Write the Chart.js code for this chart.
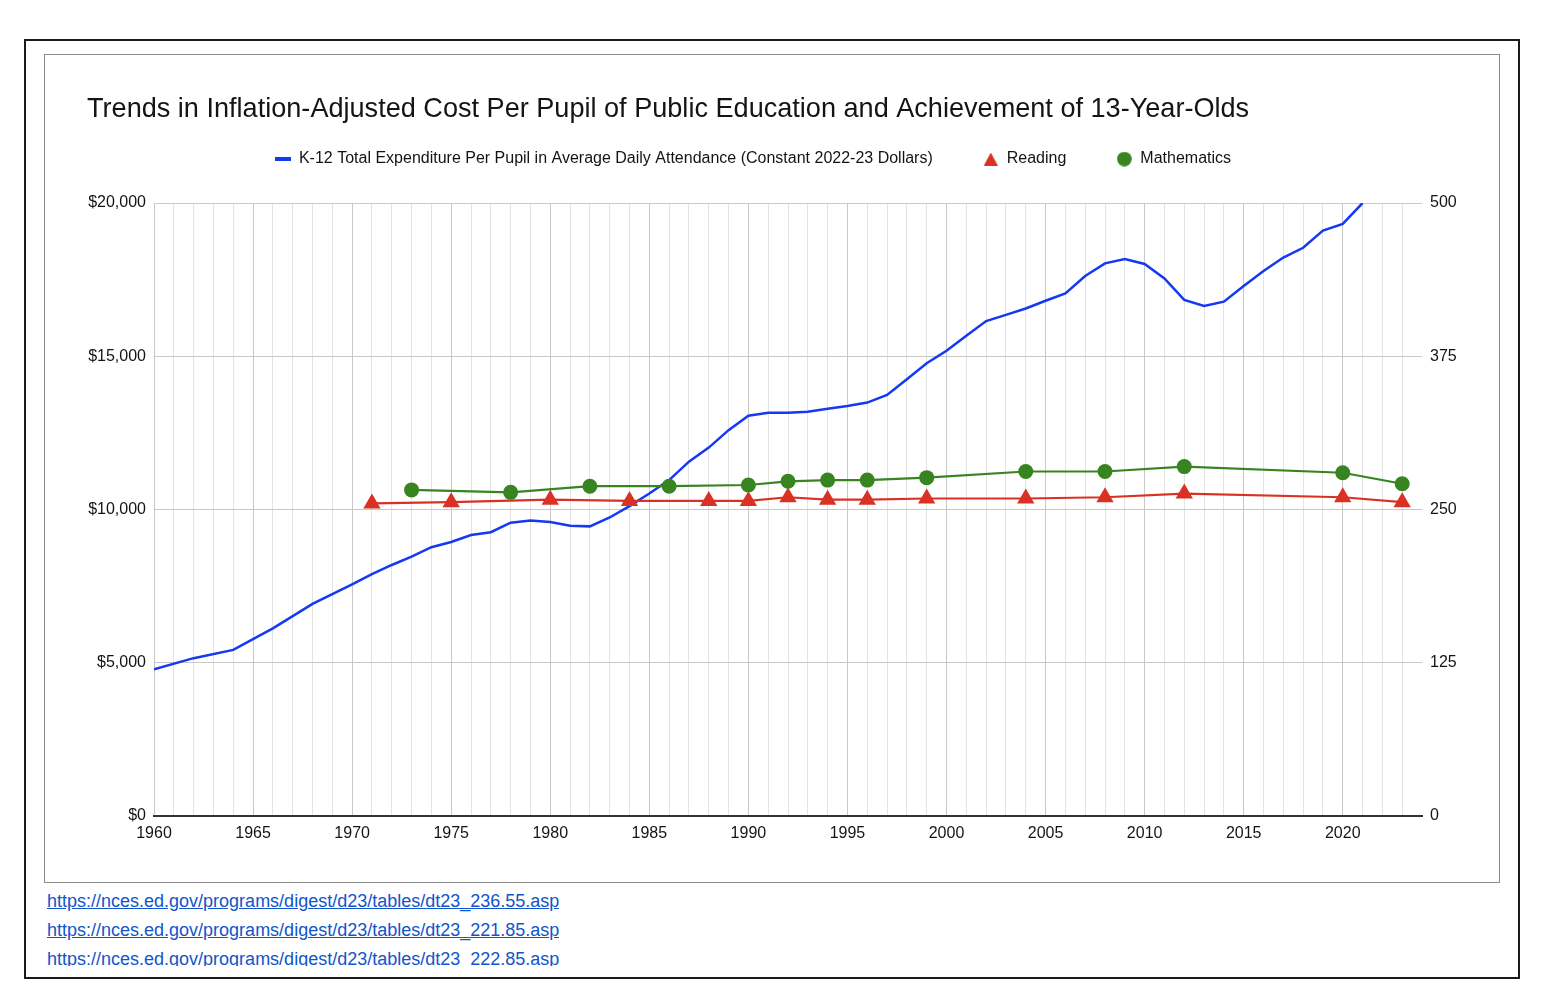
<!DOCTYPE html>
<html lang="en">

<head>
    <meta charset="UTF-8">
    <title>Cost Per Pupil and Achievement</title>
    <script src="https://cdn.jsdelivr.net/npm/chart.js"></script>
    <style>
        body {
            margin: 0;
            background: #fff;
            font-family: 'Liberation Sans', Arial, sans-serif;
        }

        .frame {
            position: absolute;
            left: 24px;
            top: 39px;
            width: 1492px;
            height: 936px;
            border: 2px solid #1a1a1a;
        }

        .chart-box {
            position: absolute;
            left: 45px;
            top: 55px;
            width: 1454px;
            height: 827px;
        }

        .chart-border {
            position: absolute;
            left: 44px;
            top: 54px;
            width: 1454px;
            height: 827px;
            border: 1px solid #8c8c8c;
            pointer-events: none;
        }

        .links {
            position: absolute;
            left: 47px;
            top: 887px;
            height: 79px;
            overflow: hidden;
            font-size: 18px;
            line-height: 29px;
        }

        .links a {
            display: block;
            color: #1155cc;
            text-decoration: underline;
        }
    </style>
</head>

<body>
    <div class="frame"></div>
    <div class="chart-box"><canvas id="costChart"></canvas></div>
    <div class="chart-border"></div>
    <div class="links">
        <a href="https://nces.ed.gov/programs/digest/d23/tables/dt23_236.55.asp">https://nces.ed.gov/programs/digest/d23/tables/dt23_236.55.asp</a>
        <a href="https://nces.ed.gov/programs/digest/d23/tables/dt23_221.85.asp">https://nces.ed.gov/programs/digest/d23/tables/dt23_221.85.asp</a>
        <a href="https://nces.ed.gov/programs/digest/d23/tables/dt23_222.85.asp">https://nces.ed.gov/programs/digest/d23/tables/dt23_222.85.asp</a>
    </div>

    <script>
        // Expenditure per pupil (constant 2022-23 dollars)
        const spendYears = [1960, 1962, 1964, 1966, 1968, 1970, 1971, 1972, 1973, 1974, 1975, 1976, 1977, 1978, 1979,
            1980, 1981, 1982, 1983, 1984, 1985, 1986, 1987, 1988, 1989, 1990, 1991, 1992, 1993, 1994, 1995, 1996,
            1997, 1998, 1999, 2000, 2001, 2002, 2003, 2004, 2005, 2006, 2007, 2008, 2009, 2010, 2011, 2012, 2013,
            2014, 2015, 2016, 2017, 2018, 2019, 2020, 2021];
        const spendValues = [4790, 5150, 5420, 6120, 6920, 7560, 7890, 8190, 8460, 8770, 8940, 9170, 9260, 9570, 9640,
            9590, 9470, 9450, 9740, 10110, 10520, 10960, 11560, 12020, 12590, 13060, 13160, 13160, 13190, 13290, 13380, 13490,
            13740, 14250, 14770, 15180, 15670, 16150, 16350, 16560, 16810, 17050, 17620, 18030, 18170, 18010, 17540, 16840, 16640,
            16780, 17290, 17780, 18220, 18540, 19100, 19320, 20000];

        // NAEP long-term trend scores, age 13
        const readingYears = [1971, 1975, 1980, 1984, 1988, 1990, 1992, 1994, 1996, 1999, 2004, 2008, 2012, 2020, 2023];
        const readingScores = [255, 256, 258, 257, 257, 257, 260, 258, 258, 259, 259, 260, 263, 260, 256];
        const mathYears = [1973, 1978, 1982, 1986, 1990, 1992, 1994, 1996, 1999, 2004, 2008, 2012, 2020, 2023];
        const mathScores = [266, 264, 269, 269, 270, 273, 274, 274, 276, 281, 281, 285, 280, 271];

        const legendLabels = ['K-12 Total Expenditure Per Pupil in Average Daily Attendance (Constant 2022-23 Dollars)',
            'Reading', 'Mathematics'];

        const BLUE = '#1538f2';
        const RED = '#d93224';
        const GREEN = '#378420';
        const TEXT = '#141414';

        const toPoints = (xs, ys) => xs.map((x, i) => ({ x: x, y: ys[i] }));

        // small canvases used as legend markers
        function marker(w, h, draw) {
            const c = document.createElement('canvas');
            c.width = w;
            c.height = h;
            draw(c.getContext('2d'));
            return c;
        }
        const blueMark = marker(16, 4, g => { g.fillStyle = BLUE; g.fillRect(0, 0, 16, 4); });
        const redMark = marker(14, 13, g => {
            g.fillStyle = RED;
            g.beginPath(); g.moveTo(7, 0); g.lineTo(14, 13); g.lineTo(0, 13); g.closePath(); g.fill();
        });
        const greenMark = marker(15, 15, g => {
            g.fillStyle = GREEN;
            g.beginPath(); g.arc(7.5, 7.5, 7.3, 0, Math.PI * 2); g.fill();
        });
        const marks = [blueMark, redMark, greenMark];

        // Move the legend to where the original sits
        const LEGEND_DX = -40;
        const LEGEND_DY = -26;
        const legendShift = {
            id: 'legendShift',
            afterLayout(chart) {
                const lg = chart.legend;
                lg.left += LEGEND_DX; lg.right += LEGEND_DX;
                lg.top += LEGEND_DY; lg.bottom += LEGEND_DY;
            }
        };

        Chart.defaults.font.family = "'Liberation Sans', Arial, sans-serif";
        Chart.defaults.color = TEXT;

        const ctx = document.getElementById('costChart').getContext('2d');
        const costChart = new Chart(ctx, {
            type: 'line',
            data: {
                datasets: [{
                    label: legendLabels[0],
                    data: toPoints(spendYears, spendValues),
                    borderColor: BLUE,
                    borderWidth: 2.5,
                    pointRadius: 0,
                    tension: 0,
                    yAxisID: 'y',
                    order: 3
                }, {
                    label: legendLabels[1],
                    data: toPoints(readingYears, readingScores),
                    borderColor: RED,
                    backgroundColor: RED,
                    borderWidth: 2.2,
                    pointStyle: 'triangle',
                    pointRadius: 10,
                    pointBorderWidth: 0,
                    tension: 0,
                    yAxisID: 'y1',
                    order: 2
                }, {
                    label: legendLabels[2],
                    data: toPoints(mathYears, mathScores),
                    borderColor: GREEN,
                    backgroundColor: GREEN,
                    borderWidth: 2.2,
                    pointStyle: 'circle',
                    pointRadius: 7.5,
                    pointBorderWidth: 0,
                    tension: 0,
                    yAxisID: 'y1',
                    order: 1
                }]
            },
            options: {
                responsive: true,
                maintainAspectRatio: false,
                animation: false,
                events: [],
                layout: { padding: { left: 42, right: 0, top: 0, bottom: 0 } },
                scales: {
                    x: {
                        type: 'linear',
                        min: 1960,
                        max: 2024,
                        afterFit: s => { s.height = 66; },
                        ticks: {
                            stepSize: 1,
                            autoSkip: false,
                            maxRotation: 0,
                            padding: 8,
                            font: { size: 16 },
                            callback: v => (v % 5 === 0 ? String(v) : '')
                        },
                        grid: {
                            drawTicks: false,
                            color: c => {
                                const v = c.tick ? c.tick.value : 0;
                                if (v === 2024) return 'rgba(0,0,0,0)';
                                return v % 5 === 0 ? '#c8c8c8' : '#e3e3e3';
                            }
                        },
                        border: { color: '#333333', width: 2 }
                    },
                    y: {
                        position: 'left',
                        min: 0,
                        max: 20000,
                        afterFit: s => { s.width = 67; },
                        ticks: {
                            stepSize: 5000,
                            padding: 8,
                            font: { size: 16 },
                            callback: v => '$' + v.toLocaleString('en-US')
                        },
                        grid: { drawTicks: false, color: '#c8c8c8' },
                        border: { display: false }
                    },
                    y1: {
                        position: 'right',
                        min: 0,
                        max: 500,
                        afterFit: s => { s.width = 77; },
                        ticks: {
                            stepSize: 125,
                            padding: 8,
                            font: { size: 16 }
                        },
                        grid: { display: false, drawTicks: false },
                        border: { display: false }
                    }
                },
                plugins: {
                    title: {
                        display: true,
                        text: 'Trends in Inflation-Adjusted Cost Per Pupil of Public Education and Achievement of 13-Year-Olds',
                        align: 'start',
                        color: TEXT,
                        font: { size: 27.1, weight: 'normal' },
                        padding: { top: 38, bottom: 1.5 }
                    },
                    legend: {
                        display: true,
                        position: 'top',
                        labels: {
                            usePointStyle: true,
                            boxWidth: 16,
                            boxHeight: 16,
                            padding: 50,
                            color: TEXT,
                            font: { size: 16 },
                            generateLabels: chart => {
                                const items = Chart.defaults.plugins.legend.labels.generateLabels(chart);
                                items.sort((a, b) => a.datasetIndex - b.datasetIndex);
                                items.forEach(it => { it.pointStyle = marks[it.datasetIndex]; });
                                return items;
                            }
                        }
                    },
                    tooltip: { enabled: false }
                }
            },
            plugins: [legendShift]
        });
    </script>
</body>

</html>
